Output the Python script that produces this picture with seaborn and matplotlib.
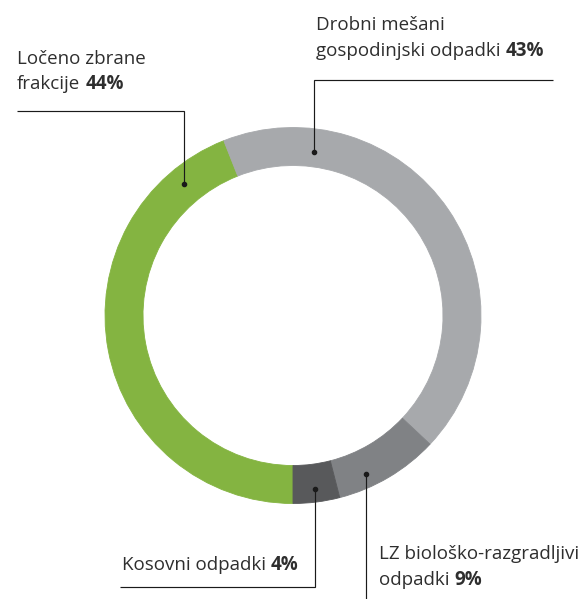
import matplotlib
matplotlib.use("Agg")
import matplotlib.pyplot as plt
import seaborn as sns

# Waste composition shares (%)
categories = ["Ločeno zbrane frakcije", "Drobni mešani gospodinjski odpadki",
              "LZ biološko-razgradljivi odpadki", "Kosovni odpadki"]
shares = [44, 43, 9, 4]
share_labels = ["44%", "43%", "9%", "4%"]
colors = ["#84b441", "#a7a9ac", "#808285", "#58595b"]

sns.set_theme(style="white")
plt.rcParams["font.family"] = ["Open Sans", "DejaVu Sans"]

W, H = 585, 599
fig = plt.figure(figsize=(W / 100, H / 100), dpi=100)
ax = fig.add_axes([0, 0, 1, 1])


def Y(y):
    # layout is specified top-down in pixels
    return H - y


wedges, _ = ax.pie(shares, colors=sns.color_palette(colors), startangle=270,
                   counterclock=False, radius=188, center=(293, Y(315.5)),
                   wedgeprops=dict(width=38, linewidth=0.6))
for w in wedges:
    w.set_edgecolor(w.get_facecolor())
ax.set_xlim(0, W)
ax.set_ylim(0, H)
ax.set_aspect("equal")
ax.axis("off")

TXT = "#2e2e2e"
LINE = "#1a1a1a"
FS = 13.5


def leader(points):
    xs = [p[0] for p in points]
    ys = [Y(p[1]) for p in points]
    ax.plot(xs, ys, color=LINE, lw=0.85, solid_capstyle="butt", solid_joinstyle="miter")
    ax.plot(xs[-1], ys[-1], "o", color=LINE, ms=3)


def label(lines, bold, x, baselines):
    for line, yb in zip(lines[:-1], baselines[:-1]):
        ax.text(x, Y(yb), line, va="baseline", ha="left", fontsize=FS, color=TXT)
    t = ax.text(x, Y(baselines[-1]), lines[-1], va="baseline", ha="left",
                fontsize=FS, color=TXT)
    ax.annotate(bold, xy=(1, Y(baselines[-1])), xycoords=(t, "data"),
                xytext=(5, 0), textcoords="offset pixels", va="baseline", ha="left",
                fontsize=FS, color=TXT, fontweight="bold")


# Ločeno zbrane frakcije
leader([(17, 111), (184, 111), (184, 184)])
label(["Ločeno zbrane", "frakcije"], share_labels[0], 17, [64, 89])

# Drobni mešani gospodinjski odpadki
leader([(553, 80), (314, 80), (314, 152)])
label(["Drobni mešani", "gospodinjski odpadki"], share_labels[1], 316, [30, 56])

# LZ biološko-razgradljivi odpadki
leader([(366, 599), (366, 474)])
label(["LZ biološko-razgradljivi", "odpadki"], share_labels[2], 379, [559, 585])

# Kosovni odpadki
leader([(120, 587), (315, 587), (315, 489)])
label(["Kosovni odpadki"], share_labels[3], 122, [570])

fig.savefig("out.png", dpi=100, facecolor="white")
